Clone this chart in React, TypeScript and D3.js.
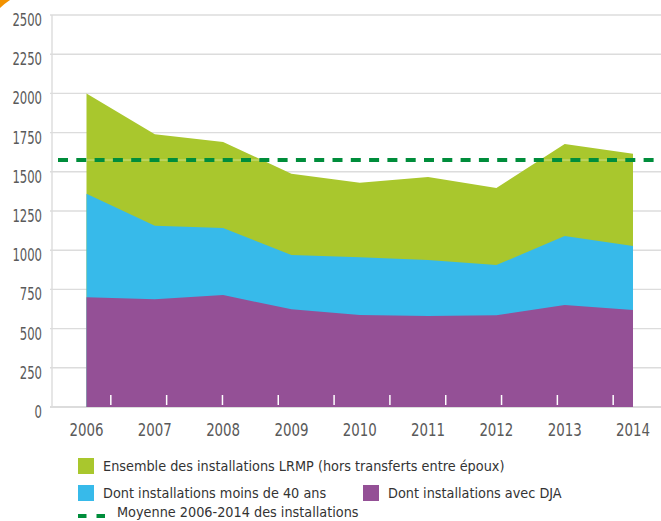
import React, { useEffect, useRef } from 'react';
import * as d3 from 'd3';

const years = ['2006', '2007', '2008', '2009', '2010', '2011', '2012', '2013', '2014'];
const totalInstallations = [2000, 1740, 1690, 1488, 1430, 1467, 1397, 1677, 1615];
const under40 = [1360, 1156, 1142, 969, 955, 937, 905, 1090, 1027];
const withDJA = [700, 687, 714, 623, 587, 580, 585, 650, 619];
const average = 1575;
const yTicks = [0, 250, 500, 750, 1000, 1250, 1500, 1750, 2000, 2250, 2500];

const GREEN = '#a9c72d';
const BLUE = '#37baea';
const PURPLE = '#945096';
const DASH = '#008d3b';
const FONT = '"DejaVu Sans Condensed", "Liberation Sans Narrow", sans-serif';

function App() {
  const svgRef = useRef(null);

  useEffect(() => {
    const svg = d3.select(svgRef.current);
    svg.selectAll('*').remove();

    const width = 661;
    const height = 521;

    svg.attr('width', width).attr('height', height);

    const x = d3.scalePoint().domain(years).range([86.5, 633]);
    const y = d3.scaleLinear().domain([0, 2500]).range([407, 15]);

    // orange corner tab
    svg.append('path')
      .attr('d', 'M0,0 L10,0 Q4,4 0,8 Z')
      .attr('fill', '#f39200');

    // grid
    svg.append('g')
      .selectAll('line')
      .data(yTicks)
      .join('line')
      .attr('x1', 50)
      .attr('x2', width)
      .attr('y1', (d) => y(d))
      .attr('y2', (d) => y(d))
      .attr('stroke', '#dcdcdc')
      .attr('stroke-width', (d) => (d === 0 ? 2 : 1.4));

    svg.append('line')
      .attr('x1', 52).attr('x2', 52)
      .attr('y1', y(2500)).attr('y2', y(0))
      .attr('stroke', '#dcdcdc')
      .attr('stroke-width', 1.4);

    svg.append('g')
      .selectAll('text')
      .data(yTicks)
      .join('text')
      .attr('x', 42)
      .attr('y', (d) => y(d) + 11)
      .attr('text-anchor', 'end')
      .attr('font-family', FONT)
      .attr('font-size', 17)
      .attr('fill', '#5a5a5a')
      .attr('textLength', (d) => String(d).length * 7.4)
      .attr('lengthAdjust', 'spacingAndGlyphs')
      .text((d) => d);

    const series = [
      { values: totalInstallations, color: GREEN },
      { values: under40, color: BLUE },
      { values: withDJA, color: PURPLE },
    ];

    series.forEach((s) => {
      const area = d3.area()
        .x((d, i) => x(years[i]))
        .y0(y(0))
        .y1((d) => y(d));
      svg.append('path')
        .datum(s.values)
        .attr('fill', s.color)
        .attr('d', area);
    });

    // white ticks inside the base
    const tickScale = d3.scaleLinear().domain([0, 11]).range([55, 669]);
    svg.append('g')
      .selectAll('line')
      .data(d3.range(1, 11))
      .join('line')
      .attr('x1', (d) => tickScale(d))
      .attr('x2', (d) => tickScale(d))
      .attr('y1', 395)
      .attr('y2', 405)
      .attr('stroke', '#fff')
      .attr('stroke-width', 1.5);

    // average line
    svg.append('line')
      .attr('x1', 58).attr('x2', width)
      .attr('y1', y(average)).attr('y2', y(average))
      .attr('stroke', '#ffffff')
      .attr('stroke-opacity', 0.45)
      .attr('stroke-width', 1);
    svg.append('line')
      .attr('x1', 58).attr('x2', width)
      .attr('y1', y(average)).attr('y2', y(average))
      .attr('stroke', DASH)
      .attr('stroke-width', 4)
      .attr('stroke-dasharray', '10 8.3');

    svg.append('g')
      .selectAll('text')
      .data(years)
      .join('text')
      .attr('x', (d) => x(d))
      .attr('y', 436)
      .attr('text-anchor', 'middle')
      .attr('font-family', FONT)
      .attr('font-size', 17)
      .attr('fill', '#5a5a5a')
      .attr('textLength', 34)
      .attr('lengthAdjust', 'spacingAndGlyphs')
      .text((d) => d);

    // legend
    const legend = [
      { label: 'Ensemble des installations LRMP (hors transferts entre époux)', color: GREEN, x: 78, y: 458 },
      { label: 'Dont installations moins de 40 ans', color: BLUE, x: 78, y: 485 },
      { label: 'Dont installations avec DJA', color: PURPLE, x: 363, y: 485 },
    ];
    const lg = svg.append('g');
    legend.forEach((l) => {
      lg.append('rect')
        .attr('x', l.x).attr('y', l.y)
        .attr('width', 16).attr('height', 16)
        .attr('fill', l.color);
      lg.append('text')
        .attr('x', l.x + 25)
        .attr('y', l.y + 13)
        .attr('font-family', FONT)
        .attr('font-size', 14.3)
        .attr('fill', '#333')
        .text(l.label);
    });
    lg.append('line')
      .attr('x1', 78).attr('x2', 106)
      .attr('y1', 516).attr('y2', 516)
      .attr('stroke', DASH)
      .attr('stroke-width', 4)
      .attr('stroke-dasharray', '8.5 10');
    lg.append('text')
      .attr('x', 117)
      .attr('y', 517)
      .attr('font-family', FONT)
      .attr('font-size', 14.3)
      .attr('fill', '#333')
      .text('Moyenne 2006-2014 des installations');
  }, []);

  return (
    <svg ref={svgRef} style={{ position: 'absolute', left: 0, top: 0, display: 'block' }}></svg>
  );
}

export default App;
